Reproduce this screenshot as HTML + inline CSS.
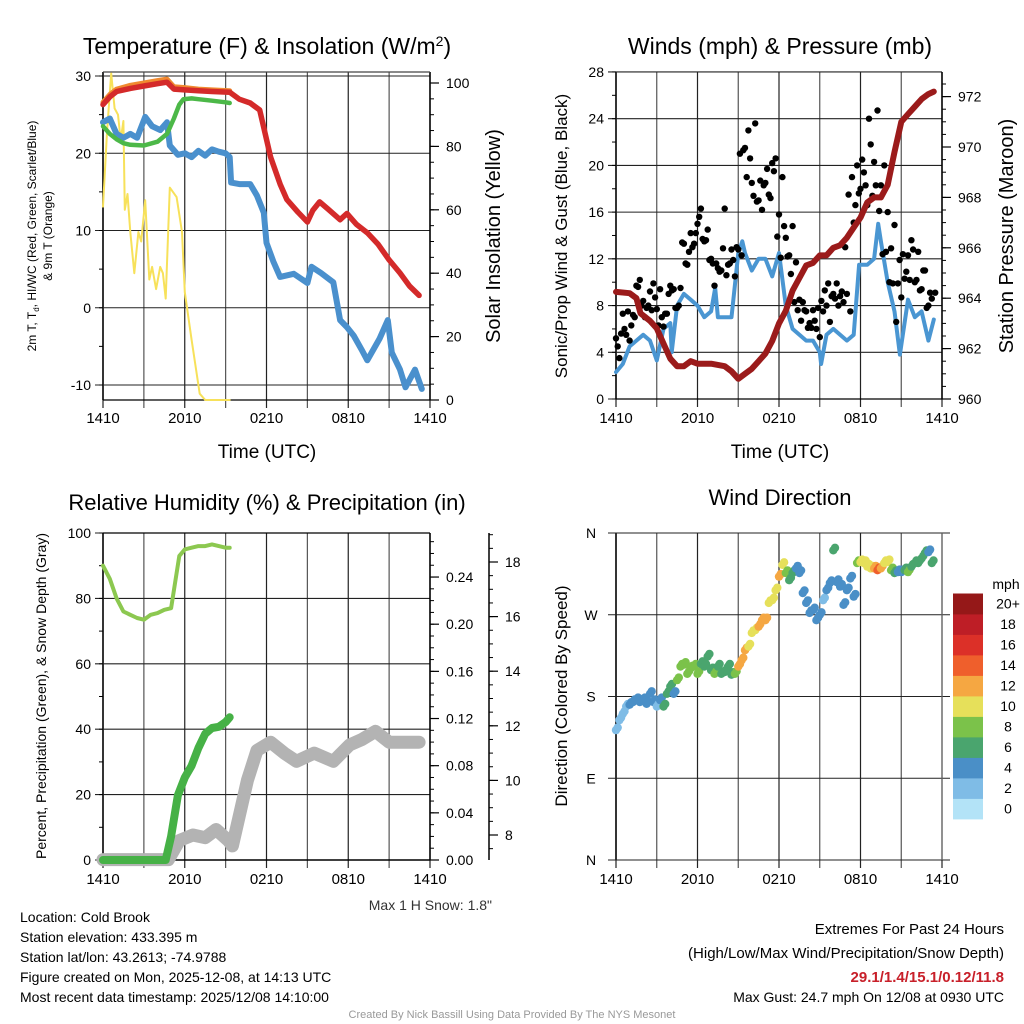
<!DOCTYPE html>
<html><head><meta charset="utf-8">
<style>
html,body{margin:0;padding:0;background:#fff;}
svg{display:block;font-family:"Liberation Sans",Arial,sans-serif;}
</style></head>
<body>
<svg id="chart" width="1024" height="1024" viewBox="0 0 1024 1024" xmlns="http://www.w3.org/2000/svg"></svg>
<script>
// ---------- DATA ----------
const tempT   = [0,0.5,1,2,3,4,4.7,5.2,6,7,8,9.3,10,10.8,11.5,12.3,13,13.5,14.3,15,15.4,15.9,16.5,17.4,17.9,18.6,19.4,20.2,21,21.8,22.5,23.2];
const tempRed = [26.3,27.3,28,28.4,28.7,29,29.2,28.3,28.2,28.1,28,27.9,27,26.5,25.6,19.5,16,14,12.4,11.1,12.6,13.7,12.8,11.4,12.2,10.8,9.7,8.2,6.2,4.5,2.8,1.6];
const t9T     = [0,0.5,1,2,3,4,4.7,5.2,6,7,8,9.3];
const t9Orange= [26.6,27.6,28.3,28.8,29.1,29.4,29.6,28.6,28.5,28.3,28.2,28.1];
const tdT     = [0,0.5,1,1.5,2,2.5,3.1,3.6,4.2,4.7,4.9,5.5,6,6.5,7,7.5,8,8.5,9,9.3,9.4,10,10.8,11.3,11.8,12,12.5,13,14,15,15.3,16,16.9,17.4,17.9,18.4,19,19.4,20.3,20.9,21.2,21.8,22.2,22.6,22.9,23.4];
const tdBlue  = [24,24.5,22.5,22,22.5,22,24.7,23.5,23,24,21,19.8,20,19.5,20.3,19.7,20.5,20.2,20,19.5,16.2,16,16,14.5,12.3,8.4,6,4,4.4,3.2,5.3,4.5,3.3,-1.6,-2.5,-3.6,-5.5,-6.8,-4,-1.6,-5.8,-8,-10.3,-9,-8,-10.5];
const hiT     = [0,0.5,1,1.5,2,3,4,4.7,5.2,5.6,5.9,6.5,7,8,9,9.3];
const hiGreen = [23.5,22.5,21.8,21.3,21.1,21,21.5,22.5,24.5,26.3,27,27.1,27,26.8,26.6,26.5];
const solT    = [0,0.3,0.6,0.85,1.1,1.3,1.5,1.6,1.8,2.0,2.3,2.6,2.8,3.1,3.4,3.6,3.9,4.2,4.4,4.6,4.9,5.4,5.8,6.0,6.5,7.1,7.5,9.3];
const solIns  = [61,85,103,92,90,82,88,60,65,53,40,53,50,63,38,42,35,42,40,32,67,64,53,34,19,2,0,0];

const windT   = [0,0.5,1,1.5,2,2.5,3,3.5,4,4.1,4.5,5,5.5,6,6.5,7,7.3,7.5,8,8.5,9,9.3,9.5,10,10.5,11,11.5,12,12.5,13,13.5,14,14.5,15,15.1,15.5,16,16.5,17,17.5,17.9,18.5,19,19.3,19.5,20,20.5,20.9,21.5,22,22.5,23,23.4];
const windSpd = [2.3,3,4.5,5,5.5,5,3.3,6,6.5,4,8,9,8.5,8,7,7.5,9.5,7,7,7,12.5,13.5,12.5,11,12,12,10.5,12.5,8,6,5.5,5,5,4,3,5.5,6,5.5,5,5.5,11.5,11.5,12,15,13.5,10,7.5,3.8,8.5,7,7.5,5,6.8];
const gustA   = [5.2,3.5,7.3,5.5,5,7.2,9.7,10.2,8.4,7.8,9.2,9.9,7.7,9.4,6.2,7.3,9.7,9.4,7.8,9.5,13.3,11.5,14.2,13.3,15,16.3,13.5,14.5,12,9.7,11.2,11,16.3,11.5,12.8,10.5,12.8,12.3,21.5,23,18.5,23.6,17,16.2,18.5,17.5,20.2,20.6,15.8,19,13.8,12.3,14.8,11.7,8.5,8.3,7.5,6.5,7.6,6,5.3,7.5,8,6.6,9,9.9,8.8,8.3,9,7.5,15.1,20,18,19.4,16.6,21.8,20.3,24.7,18.3,20,16,12.9,14.9,9.9,8.7,10.3,12.3,13.6,10,12.6,9.4,11,8,8.6,9.1];
const gustB   = [4.5,5.6,6,7.5,6.3,7,9.6,8,7,8,7.6,8.7,6.3,7,7.3,9,9.3,7.8,8,13.4,11.6,12.6,13,14.2,15.6,13.7,13.6,11.9,11.6,11.6,10.9,12.9,10.6,11.6,11.9,13,21,21.3,19,20.6,17.4,16.9,18.7,18.3,19.7,17.2,19.5,13.9,12.1,14.8,12.2,10.7,8.3,7.6,6.7,7.6,6.1,6.1,6.7,7.8,8.4,9.3,9.9,8.8,8.6,8,9.2,13,17.5,19,16.6,17.6,20.5,18.3,24,17.4,18.3,16.1,12.4,12.6,10,9.9,6.6,11.9,12.4,10.9,10.2,12.8,10.2,9.3,11,7.8,9.1];
const presT   = [0,1,1.5,1.8,2.5,3,3.5,4,4.5,5,5.5,6,7,8,8.5,9,9.5,10,10.5,11,11.5,12,12.5,13,13.5,14,14.5,15,15.5,16,16.5,17,17.5,18,18.5,19,19.5,20,20.5,21,21.5,22,22.5,23,23.4];
const presMb  = [964.25,964.2,964,963.4,963.1,962.8,962.2,961.6,961.3,961.3,961.5,961.4,961.4,961.3,961.1,960.8,961,961.2,961.5,961.8,962.3,963,963.5,964.3,964.8,965.3,965.4,965.7,965.7,966,966.1,966.4,966.8,967.2,967.8,968,968,968.5,969.8,971,971.3,971.6,971.9,972.1,972.2];

const rhT     = [0,0.5,1,1.5,2,2.5,3,3.5,4,4.5,5,5.3,5.6,6,6.5,7,7.5,8,8.5,9,9.3];
const rhPct   = [90,86,80,76,75,74,73.5,75,75.5,76.5,77,85,93,95,95.5,96,96,96.5,96,95.5,95.5];
const pcpT    = [0,4.6,5,5.5,6,6.5,7,7.5,8,8.5,9,9.3];
const pcpIn   = [0,0,0.02,0.055,0.07,0.08,0.095,0.107,0.112,0.113,0.117,0.121];
const snowT   = [0,4.8,5.6,6.6,7.5,8.3,9.2,9.5,10.6,11.3,12.3,13.3,14.2,15.5,16.9,18.1,19,20,21,23.2];
const snowIn  = [7.1,7.1,7.8,8.0,7.9,8.2,7.8,7.6,10.0,11.1,11.4,11.0,10.7,11.0,10.7,11.3,11.5,11.8,11.4,11.4];

const dirT = [0,0.25,0.5,0.75,1,1.25,1.5,1.75,2,2.25,2.5,2.75,3,3.25,3.5,3.75,4,4.25,4.5,4.75,5,5.25,5.5,5.75,6,6.25,6.5,6.75,7,7.25,7.5,7.75,8,8.25,8.5,8.75,9,9.25,9.5,9.75,10,10.25,10.5,10.75,11,11.25,11.5,11.75,12,12.25,12.5,12.75,13,13.25,13.5,13.75,14,14.25,14.5,14.75,15,15.25,15.5,15.75,16,16.25,16.5,16.75,17,17.25,17.5,17.75,18,18.25,18.5,18.75,19,19.25,19.5,19.75,20,20.25,20.5,20.75,21,21.25,21.5,21.75,22,22.25,22.5,22.75,23,23.25];
const dirDeg = [143,154,161,169,171,174,176,174,176,172,183,174,169,176,169,183,191,183,198,213,215,205,211,213,205,216,213,224,209,205,213,205,207,213,204,205,213,220,231,235,250,253,257,264,264,283,286,297,312,325,316,308,316,321,316,294,283,272,275,264,270,286,297,305,341,306,301,281,297,310,290,327,328,327,323,321,321,319,321,327,328,319,316,317,317,319,317,323,327,327,332,338,339,327];
const spdBins   = [0,2,4,6,8,10,12,14,16,18,20];
const spdLabels = ["0","2","4","6","8","10","12","14","16","18","20+"];
const spdColors = ["#b3e3f7","#7fbce6","#4a8fc7","#4aa56e","#7bc24a","#e6e05a","#f5a742","#ef5f2c","#dc3028","#be1e26","#951818"];

const hourLabels = ["1410","2010","0210","0810","1410"];

// ---------- HELPERS ----------
const svg = document.getElementById('chart');
const NS = 'http://www.w3.org/2000/svg';
function mk(tag, attrs, name, parent){
  const el = document.createElementNS(NS, tag);
  for (const k in attrs) el.setAttribute(k, attrs[k]);
  
  
  (parent||svg).appendChild(el);
  return el;
}
function txt(x,y,s,size,name,opt){
  opt=opt||{};
  const a={x:x,y:y,'font-size':size,fill:opt.fill||'#000','text-anchor':opt.anchor||'middle'};
  if(opt.weight) a['font-weight']=opt.weight;
  if(opt.rot!==undefined) a.transform='rotate('+opt.rot+' '+x+' '+y+')';
  const t=mk('text',a,name);
  t.textContent=s;
  return t;
}
function span(parent,s,attrs,name){
  const el=document.createElementNS(NS,'tspan');
  for(const k in attrs) el.setAttribute(k,attrs[k]);
  el.textContent=s;
  
  
  parent.appendChild(el);
  return el;
}
function ln(x1,y1,x2,y2,c,w,name){ return mk('line',{x1:x1,y1:y1,x2:x2,y2:y2,stroke:c,'stroke-width':w},name); }
function poly(xs,ys,fx,fy,c,w,name){
  let d='';
  for(let i=0;i<xs.length;i++) d+=(i?'L':'M')+fx(xs[i]).toFixed(1)+' '+fy(ys[i]).toFixed(1);
  return mk('path',{d:d,fill:'none',stroke:c,'stroke-width':w,'stroke-linejoin':'round','stroke-linecap':'round'},name);
}
function interp(ts,vs,t){
  if(t<=ts[0]) return vs[0];
  for(let i=1;i<ts.length;i++) if(t<=ts[i]){const f=(t-ts[i-1])/(ts[i]-ts[i-1]);return vs[i-1]+f*(vs[i]-vs[i-1]);}
  return vs[vs.length-1];
}
function timeGrid(x0,x1,yT,yB,name,labelY){
  for(let h=0;h<=24;h+=3){
    const x=x0+h/24*(x1-x0);
    ln(x,yT,x,yB+8,h%6===0?'#222':'#555',1.2,name+'-vgrid');
  }
  for(let i=0;i<hourLabels.length;i++){
    const x=x0+i*6/24*(x1-x0);
    txt(x,labelY,hourLabels[i],15,name+'-xtick-label');
  }
}
function yAxisLeft(x,yT,yB,fy,majors,minors,fmt,name,x1){
  ln(x,yT,x,yB,'#000',1.5,name+'-left-axis');
  majors.forEach(v=>{const y=fy(v);ln(x-8,y,x1,y,'#222',1.1,name+'-hgrid');txt(x-12,y+5,fmt(v),14,name+'-ytick-label',{anchor:'end'});});
  minors.forEach(v=>{const y=fy(v);ln(x-4,y,x,y,'#000',1,name+'-minor-tick');});
}
function yAxisRight(x,yT,yB,fy,majors,minors,fmt,name){
  ln(x,yT,x,yB,'#000',1.5,name+'-right-axis');
  majors.forEach(v=>{const y=fy(v);ln(x,y,x+9,y,'#000',1.2,name+'-right-tick');txt(x+16,y+5,fmt(v),14,name+'-right-tick-label',{anchor:'start'});});
  minors.forEach(v=>{const y=fy(v);ln(x,y,x+4,y,'#000',1,name+'-right-minor-tick');});
}
function range(a,b,s){const r=[];for(let v=a;v<=b+1e-9;v+=s) r.push(+v.toFixed(4));return r;}

// ---------- PANEL 1: Temperature ----------
(function(){
  const x0=103,x1=430,yT=72,yB=400;
  const fx=t=>x0+t/24*(x1-x0), fy=v=>76+(30-v)*7.725, fr=v=>400-v*3.17;
  const title=txt(267,54,'Temperature (F) & Insolation (W/m',23,'temp-title');
  span(title,'2',{dy:'-8','font-size':'14'},'title-superscript');
  span(title,')',{dy:'8'},'title-close');
  timeGrid(x0,x1,yT,yB,'temp',423);
  yAxisLeft(x0,yT,yB,fy,[30,20,10,0,-10],range(-10,30,5),v=>String(v),'temp',x1);
  yAxisRight(x1,yT,yB,fr,[0,20,40,60,80,100],range(0,100,5),v=>String(v),'insolation');
  ln(x0,yT,x1,yT,'#444',1.2,'temp-top-border');
  ln(x0,yB,x1,yB,'#000',1.2,'temp-bottom-border');
  poly(solT,solIns,fx,fr,'#f7e15a',2,'insolation-line');
  poly(tdT,tdBlue,fx,fy,'#4a90cd',6,'dewpoint-line');
  poly(hiT,hiGreen,fx,fy,'#4cb848',4.5,'heat-index-line');
  poly(t9T,t9Orange,fx,fy,'#f08a30',5,'t9m-line');
  poly(tempT,tempRed,fx,fy,'#d42a2a',5.5,'temp-2m-line');
  txt(267,458,'Time (UTC)',19,'temp-x-title');
  const yt=txt(36,236,'2m T, T',12,'temp-y-title-1',{rot:-90});
  span(yt,'d',{dy:'3','font-size':'8'},'td-subscript');
  span(yt,', HI/WC (Red, Green, Scarlet/Blue)',{dy:'-3'},'temp-y-title-rest');
  txt(52,236,'& 9m T (Orange)',12,'temp-y-title-2',{rot:-90});
  txt(500,236,'Solar Insolation (Yellow)',20,'insolation-y-title',{rot:-90});
})();

// ---------- PANEL 2: Winds ----------
(function(){
  const x0=616,x1=942,yT=72,yB=399;
  const fx=t=>x0+t/24*(x1-x0), fy=v=>399-v*11.68, fp=p=>399-(p-960)*25.2;
  txt(780,54,'Winds (mph) & Pressure (mb)',23,'wind-title');
  timeGrid(x0,x1,yT,yB,'wind',423);
  yAxisLeft(x0,yT,yB,fy,range(0,28,4),range(0,28,2),v=>String(v),'wind',x1);
  yAxisRight(x1,yT,yB,fp,range(960,972,2),range(960,972.5,0.5),v=>String(v),'pressure');
  ln(x0,yB,x1,yB,'#000',1.2,'wind-bottom-border');
  poly(windT,windSpd,fx,fy,'#4a96d2',4,'wind-speed-line');
  for(let i=0;i<gustA.length;i++){
    mk('circle',{cx:fx(i*0.25).toFixed(1),cy:fy(gustA[i]).toFixed(1),r:3.2,fill:'#000'},'gust-dot');
  }
  for(let i=0;i<gustB.length;i++){
    mk('circle',{cx:fx(0.125+i*0.25).toFixed(1),cy:fy(gustB[i]).toFixed(1),r:3.2,fill:'#000'},'gust-dot');
  }
  poly(presT,presMb,fx,fp,'#9b1b1b',6,'pressure-line');
  txt(780,458,'Time (UTC)',19,'wind-x-title');
  txt(567,236,'Sonic/Prop Wind & Gust (Blue, Black)',17,'wind-y-title',{rot:-90});
  txt(1013,236,'Station Pressure (Maroon)',20,'pressure-y-title',{rot:-90});
})();

// ---------- PANEL 3: RH / Precip / Snow ----------
(function(){
  const x0=103,x1=430,yT=533,yB=860;
  const fx=t=>x0+t/24*(x1-x0), fy=v=>860-v*3.27, fp=p=>860-p*1179, fs=s=>835-(s-8)*27.3;
  txt(267,510,'Relative Humidity (%) & Precipitation (in)',22,'rh-title');
  timeGrid(x0,x1,yT,yB,'rh',884);
  yAxisLeft(x0,yT,yB,fy,range(0,100,20),range(0,100,10),v=>String(v),'rh',x1);
  yAxisRight(x1,yT,yB,fp,range(0,0.24,0.04),range(0,0.27,0.01),v=>v.toFixed(2),'precip');
  yAxisRight(489,533,860,fs,range(8,18,2),range(7.5,19,0.5),v=>String(v),'snow');
  ln(x0,yT,x1,yT,'#000',1.2,'rh-top-border');
  ln(x0,yB,x1,yB,'#000',1.5,'rh-bottom-border');
  poly(snowT,snowIn,fx,fs,'#b3b3b3',13,'snow-depth-line');
  poly(pcpT,pcpIn,fx,fp,'#46b146',8,'precip-line');
  poly(rhT,rhPct,fx,fy,'#8cc850',4,'rh-line');
  txt(46,696,'Percent, Precipitation (Green), & Snow Depth (Gray)',14,'rh-y-title',{rot:-90});
  txt(492,910,'Max 1 H Snow: 1.8"',14,'max-snow-note',{anchor:'end',fill:'#333'});
})();

// ---------- PANEL 4: Wind Direction ----------
(function(){
  const x0=616,x1=942,yT=533,yB=860;
  const fx=t=>x0+t/24*(x1-x0), fd=d=>860-d*327/360;
  txt(780,505,'Wind Direction',22,'dir-title');
  timeGrid(x0,x1,yT,yB,'dir',884);
  const dl=['N','E','S','W','N'];
  ln(x0,yT,x0,yB,'#000',1.5,'dir-left-axis');
  for(let i=0;i<5;i++){
    const y=fd(i*90);
    ln(x0-8,y,x1+8,y,'#222',1.1,'dir-hgrid');
    txt(591,y+5,dl[i],14,'dir-tick-label');
  }
  ln(x1,yT,x1,yB,'#666',1.2,'dir-right-border');
  for(let i=0;i<dirT.length;i++){
    const s=interp(windT,windSpd,dirT[i]);
    const b=Math.min(10,Math.floor(s/2));
    mk('circle',{cx:fx(dirT[i]).toFixed(1),cy:fd(dirDeg[i]).toFixed(1),r:4.2,fill:spdColors[b]},'dir-dot');
    mk('circle',{cx:(fx(dirT[i])+1.7).toFixed(1),cy:(fd(dirDeg[i])-2.5).toFixed(1),r:4.2,fill:spdColors[b]},'dir-dot');
  }
  txt(567,696,'Direction (Colored By Speed)',17,'dir-y-title',{rot:-90});
  txt(1006,589,'mph',14,'colorbar-title');
  for(let i=0;i<spdColors.length;i++){
    const y=819-(i+1)*20.5;
    mk('rect',{x:953,y:y.toFixed(1),width:30,height:20.9,fill:spdColors[i]},'colorbar-box');
    txt(1008,y+15,spdLabels[i],14,'colorbar-label');
  }
})();

// ---------- FOOTER TEXT ----------
const infoLines=['Location: Cold Brook','Station elevation: 433.395 m','Station lat/lon: 43.2613; -74.9788','Figure created on Mon, 2025-12-08, at 14:13 UTC','Most recent data timestamp: 2025/12/08 14:10:00'];
infoLines.forEach((s,i)=>txt(20,922+i*20,s,14,'station-info-line',{anchor:'start'}));
txt(1004,934,'Extremes For Past 24 Hours',15,'extremes-title',{anchor:'end'});
txt(1004,958,'(High/Low/Max Wind/Precipitation/Snow Depth)',15,'extremes-subtitle',{anchor:'end'});
txt(1004,982,'29.1/1.4/15.1/0.12/11.8',15,'extremes-values',{anchor:'end',fill:'#c8202a',weight:'bold'});
txt(1004,1002,'Max Gust: 24.7 mph On 12/08 at 0930 UTC',14,'max-gust',{anchor:'end'});
txt(512,1018,'Created By Nick Bassill Using Data Provided By The NYS Mesonet',11,'credit',{fill:'#999'});
</script>
</body></html>
